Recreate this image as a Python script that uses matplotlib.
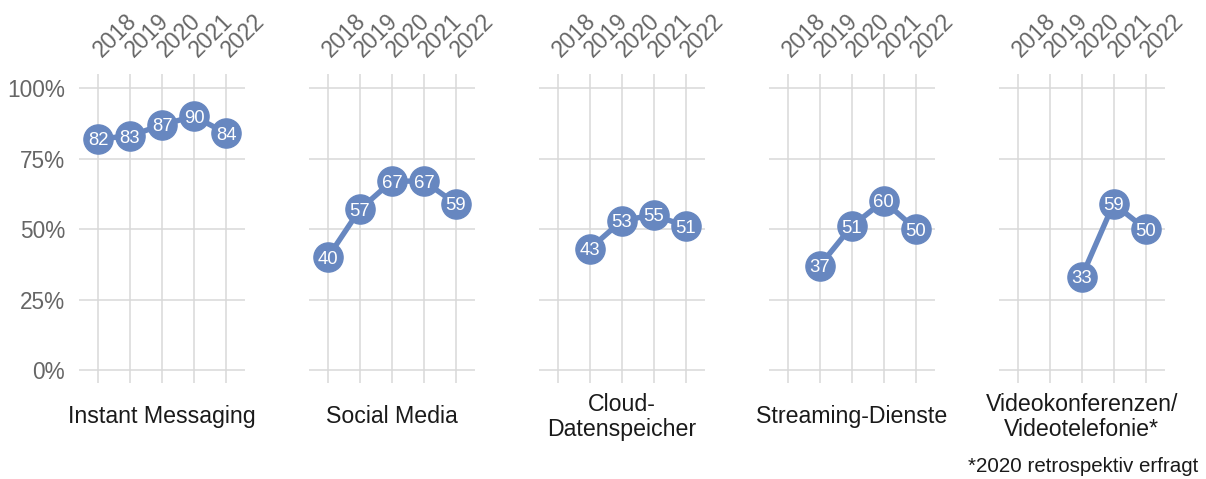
import numpy as np
import matplotlib.pyplot as plt
from matplotlib.transforms import ScaledTranslation

plt.rcParams['font.family'] = ['Liberation Sans', 'DejaVu Sans']

# --- Daten ---
years = [2018, 2019, 2020, 2021, 2022]
categories = ["Instant Messaging", "Social Media", "Cloud-\nDatenspeicher",
              "Streaming-Dienste", "Videokonferenzen/\nVideotelefonie*"]
instant_messaging = [82, 83, 87, 90, 84]
social_media = [40, 57, 67, 67, 59]
cloud = [np.nan, 43, 53, 55, 51]
streaming = [np.nan, 37, 51, 60, 50]
video = [np.nan, np.nan, 33, 59, 50]
series = [instant_messaging, social_media, cloud, streaming, video]
y_ticks = [0, 25, 50, 75, 100]
footnote = "*2020 retrospektiv erfragt"

# --- Stil ---
blue = '#6787c0'
grid_col = '#d9d9d9'
tick_col = '#666666'
W, H = 1206, 479

fig = plt.figure(figsize=(W / 100, H / 100), dpi=100)

left0, width, step = 79, 166, 229.9
top, bottom = 74, 383

for i, (cat, vals) in enumerate(zip(categories, series)):
    x0 = left0 + i * step
    ax = fig.add_axes([x0 / W, 1 - bottom / H, width / W, (bottom - top) / H])
    ax.set_xlim(2018 - 19 / 32, 2022 + 19 / 32)
    ax.set_ylim(-4.6, 105)

    # Gitter
    for yv in y_ticks:
        ax.axhline(yv, color=grid_col, lw=1.1, zorder=0)
    for xv in years:
        ax.axvline(xv, color=grid_col, lw=1.1, zorder=0)

    vals = np.array(vals, dtype=float)
    ax.plot(years, vals, color=blue, lw=3.9, zorder=2, solid_capstyle='round')
    ax.plot(years, vals, 'o', color=blue, ms=21, zorder=3)
    for xv, yv in zip(years, vals):
        if not np.isnan(yv):
            ax.text(xv, yv, f"{int(yv)}", color='white', fontsize=13.3,
                    ha='center', va='center_baseline', zorder=4)

    for s in ax.spines.values():
        s.set_visible(False)

    ax.xaxis.tick_top()
    ax.set_xticks(years)
    ax.set_xticklabels([str(y) for y in years], rotation=45, ha='left',
                       rotation_mode='anchor', color=tick_col, fontsize=16.5)
    ax.tick_params(axis='x', length=0, pad=9)
    shift = ScaledTranslation(5 / 72, 0, fig.dpi_scale_trans)
    for lab in ax.get_xticklabels():
        lab.set_transform(lab.get_transform() + shift)

    ax.set_yticks(y_ticks)
    if i == 0:
        ax.set_yticklabels([f"{y}%" for y in y_ticks], color=tick_col, fontsize=16.3)
        ax.tick_params(axis='y', length=0, pad=10)
    else:
        ax.tick_params(axis='y', length=0, labelleft=False)

    ax.text(0.5, -0.11, cat, transform=ax.transAxes, ha='center', va='center',
            fontsize=16.7, color='#1a1a1a', linespacing=1.15)

fig.text(1198 / W, 1 - 467 / H, footnote, ha='right', va='center',
         fontsize=14.8, color='#1a1a1a')

fig.savefig('out.png', dpi=100)
